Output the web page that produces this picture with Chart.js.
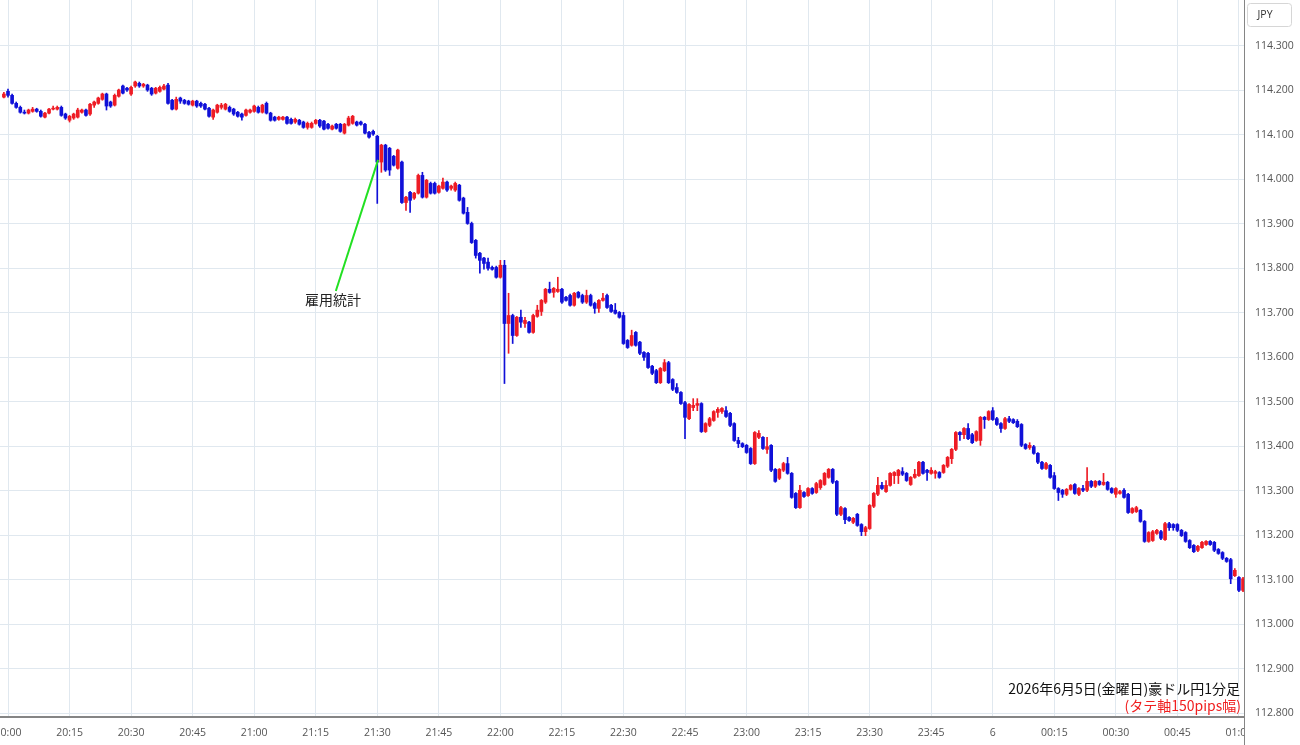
<!DOCTYPE html>
<html lang="ja">
<head>
<meta charset="utf-8">
<title>豪ドル円 1分足</title>
<script src="https://cdn.jsdelivr.net/npm/chart.js@4.4.1/dist/chart.umd.min.js"></script>
<style>
  html, body { margin: 0; padding: 0; background: #fff; }
  #wrap { width: 1300px; height: 745px; }
</style>
</head>
<body>
<div id="wrap"><canvas id="chart" width="1300" height="745"></canvas></div>
<script>
// 1-minute candles, first one is 19:59 (minute -1 from 20:00)
var firstMinute = -1;

var opens = [
  114.185, 114.198, 114.189, 114.171, 114.162, 114.151, 114.149, 114.153, 114.158, 114.153,
  114.140, 114.149, 114.158, 114.158, 114.162, 114.147, 114.133, 114.138, 114.140, 114.151,
  114.156, 114.147, 114.167, 114.171, 114.180, 114.192, 114.174, 114.167, 114.187, 114.210,
  114.205, 114.192, 114.210, 114.216, 114.210, 114.212, 114.205, 114.194, 114.198, 114.203,
  114.212, 114.178, 114.158, 114.183, 114.178, 114.176, 114.167, 114.176, 114.171, 114.169,
  114.160, 114.140, 114.151, 114.162, 114.158, 114.162, 114.158, 114.151, 114.147, 114.144,
  114.151, 114.153, 114.162, 114.151, 114.171, 114.149, 114.140, 114.135, 114.135, 114.140,
  114.135, 114.129, 114.133, 114.129, 114.117, 114.117, 114.126, 114.133, 114.131, 114.124,
  114.113, 114.124, 114.124, 114.104, 114.122, 114.126, 114.129, 114.129, 114.124, 114.106,
  114.108, 114.097, 114.039, 114.077, 114.070, 114.052, 114.025, 114.039, 113.948, 113.971,
  113.958, 113.969, 114.009, 113.960, 113.991, 113.991, 113.971, 113.980, 113.994, 113.980,
  113.976, 113.987, 113.958, 113.926, 113.901, 113.863, 113.834, 113.823, 113.814, 113.802,
  113.802, 113.780, 113.807, 113.676, 113.694, 113.649, 113.690, 113.676, 113.679, 113.656,
  113.692, 113.703, 113.724, 113.753, 113.746, 113.748, 113.753, 113.735, 113.739, 113.717,
  113.746, 113.739, 113.724, 113.739, 113.721, 113.710, 113.728, 113.739, 113.717, 113.706,
  113.701, 113.694, 113.638, 113.627, 113.656, 113.634, 113.611, 113.609, 113.580, 113.570,
  113.543, 113.570, 113.588, 113.550, 113.532, 113.521, 113.498, 113.462, 113.487, 113.492,
  113.496, 113.433, 113.447, 113.458, 113.476, 113.478, 113.480, 113.474, 113.451, 113.413,
  113.406, 113.402, 113.395, 113.361, 113.420, 113.420, 113.393, 113.402, 113.348, 113.328,
  113.346, 113.361, 113.339, 113.294, 113.262, 113.296, 113.289, 113.305, 113.296, 113.307,
  113.314, 113.330, 113.348, 113.321, 113.247, 113.260, 113.240, 113.229, 113.247, 113.224,
  113.208, 113.215, 113.265, 113.292, 113.312, 113.298, 113.312, 113.334, 113.334, 113.343,
  113.339, 113.314, 113.330, 113.334, 113.364, 113.346, 113.339, 113.339, 113.341, 113.341,
  113.355, 113.372, 113.393, 113.431, 113.426, 113.440, 113.426, 113.413, 113.413, 113.465,
  113.460, 113.480, 113.462, 113.451, 113.440, 113.462, 113.460, 113.456, 113.449, 113.404,
  113.397, 113.399, 113.384, 113.364, 113.350, 113.357, 113.334, 113.305, 113.301, 113.292,
  113.303, 113.314, 113.292, 113.305, 113.301, 113.321, 113.310, 113.321, 113.314, 113.319,
  113.305, 113.292, 113.294, 113.301, 113.292, 113.251, 113.253, 113.256, 113.231, 113.186,
  113.188, 113.204, 113.208, 113.190, 113.226, 113.224, 113.224, 113.211, 113.206, 113.188,
  113.177, 113.166, 113.172, 113.179, 113.186, 113.184, 113.168, 113.161, 113.148, 113.145,
  113.109, 113.105, 113.076
];

var highs = [
  114.196, 114.203, 114.192, 114.174, 114.165, 114.156, 114.158, 114.162, 114.160, 114.156,
  114.151, 114.160, 114.165, 114.165, 114.165, 114.149, 114.144, 114.149, 114.160, 114.158,
  114.158, 114.171, 114.176, 114.185, 114.194, 114.194, 114.176, 114.192, 114.203, 114.212,
  114.207, 114.210, 114.221, 114.219, 114.216, 114.214, 114.207, 114.207, 114.210, 114.214,
  114.216, 114.180, 114.185, 114.185, 114.180, 114.178, 114.178, 114.178, 114.174, 114.171,
  114.162, 114.158, 114.169, 114.171, 114.171, 114.165, 114.160, 114.153, 114.149, 114.158,
  114.158, 114.167, 114.165, 114.169, 114.174, 114.151, 114.142, 114.142, 114.142, 114.142,
  114.138, 114.138, 114.135, 114.131, 114.129, 114.129, 114.135, 114.135, 114.133, 114.126,
  114.122, 114.126, 114.126, 114.126, 114.142, 114.144, 114.131, 114.131, 114.126, 114.108,
  114.111, 114.099, 114.079, 114.079, 114.072, 114.054, 114.068, 114.041, 113.962, 113.973,
  113.971, 114.012, 114.016, 114.000, 113.994, 113.994, 113.987, 114.003, 113.996, 113.987,
  113.994, 113.989, 113.960, 113.937, 113.904, 113.865, 113.836, 113.825, 113.823, 113.805,
  113.805, 113.818, 113.818, 113.744, 113.697, 113.692, 113.706, 113.690, 113.681, 113.697,
  113.717, 113.730, 113.755, 113.769, 113.757, 113.780, 113.755, 113.737, 113.742, 113.746,
  113.748, 113.742, 113.751, 113.742, 113.724, 113.730, 113.744, 113.742, 113.719, 113.721,
  113.703, 113.701, 113.640, 113.661, 113.658, 113.636, 113.613, 113.611, 113.582, 113.573,
  113.577, 113.595, 113.591, 113.552, 113.541, 113.523, 113.501, 113.496, 113.507, 113.507,
  113.498, 113.453, 113.465, 113.480, 113.487, 113.487, 113.489, 113.476, 113.453, 113.420,
  113.408, 113.404, 113.397, 113.433, 113.435, 113.422, 113.420, 113.404, 113.350, 113.350,
  113.364, 113.375, 113.341, 113.296, 113.312, 113.298, 113.307, 113.307, 113.319, 113.325,
  113.341, 113.350, 113.350, 113.323, 113.265, 113.262, 113.242, 113.240, 113.249, 113.226,
  113.220, 113.269, 113.296, 113.330, 113.319, 113.323, 113.341, 113.343, 113.348, 113.352,
  113.341, 113.332, 113.348, 113.366, 113.366, 113.348, 113.352, 113.346, 113.343, 113.359,
  113.377, 113.395, 113.433, 113.433, 113.442, 113.451, 113.429, 113.435, 113.467, 113.467,
  113.480, 113.487, 113.465, 113.453, 113.465, 113.467, 113.462, 113.460, 113.451, 113.406,
  113.408, 113.402, 113.386, 113.366, 113.364, 113.359, 113.341, 113.307, 113.303, 113.305,
  113.314, 113.316, 113.307, 113.312, 113.352, 113.323, 113.323, 113.323, 113.339, 113.321,
  113.307, 113.307, 113.301, 113.305, 113.294, 113.262, 113.265, 113.258, 113.233, 113.208,
  113.211, 113.213, 113.211, 113.229, 113.229, 113.226, 113.226, 113.213, 113.208, 113.190,
  113.179, 113.177, 113.186, 113.188, 113.188, 113.186, 113.170, 113.163, 113.150, 113.148,
  113.125, 113.107, 113.105
];

var lows = [
  114.183, 114.185, 114.169, 114.160, 114.149, 114.147, 114.147, 114.151, 114.151, 114.140,
  114.138, 114.147, 114.156, 114.156, 114.142, 114.135, 114.129, 114.135, 114.138, 114.149,
  114.142, 114.144, 114.162, 114.169, 114.178, 114.156, 114.162, 114.165, 114.185, 114.192,
  114.198, 114.189, 114.207, 114.207, 114.207, 114.198, 114.189, 114.192, 114.196, 114.201,
  114.169, 114.156, 114.156, 114.171, 114.169, 114.167, 114.165, 114.162, 114.162, 114.156,
  114.140, 114.135, 114.149, 114.158, 114.156, 114.151, 114.144, 114.140, 114.133, 114.142,
  114.149, 114.151, 114.149, 114.149, 114.147, 114.131, 114.131, 114.133, 114.133, 114.124,
  114.124, 114.126, 114.122, 114.115, 114.113, 114.115, 114.124, 114.117, 114.111, 114.113,
  114.111, 114.113, 114.106, 114.102, 114.120, 114.124, 114.120, 114.122, 114.102, 114.093,
  114.099, 113.946, 114.016, 114.018, 114.009, 114.030, 114.023, 113.946, 113.930, 113.926,
  113.955, 113.967, 113.958, 113.958, 113.967, 113.967, 113.969, 113.978, 113.973, 113.976,
  113.973, 113.951, 113.922, 113.899, 113.856, 113.823, 113.789, 113.798, 113.796, 113.796,
  113.778, 113.778, 113.541, 113.609, 113.631, 113.647, 113.667, 113.667, 113.654, 113.654,
  113.690, 113.694, 113.721, 113.744, 113.735, 113.746, 113.721, 113.726, 113.715, 113.715,
  113.733, 113.721, 113.721, 113.715, 113.699, 113.701, 113.726, 113.710, 113.701, 113.697,
  113.688, 113.629, 113.620, 113.625, 113.625, 113.606, 113.593, 113.575, 113.561, 113.541,
  113.541, 113.568, 113.541, 113.525, 113.519, 113.494, 113.417, 113.460, 113.480, 113.480,
  113.431, 113.431, 113.444, 113.456, 113.465, 113.474, 113.465, 113.444, 113.411, 113.397,
  113.397, 113.384, 113.359, 113.359, 113.417, 113.393, 113.384, 113.343, 113.319, 113.325,
  113.343, 113.337, 113.283, 113.260, 113.260, 113.285, 113.287, 113.292, 113.294, 113.303,
  113.312, 113.328, 113.316, 113.244, 113.244, 113.226, 113.231, 113.226, 113.220, 113.199,
  113.199, 113.213, 113.262, 113.289, 113.303, 113.296, 113.310, 113.316, 113.316, 113.334,
  113.321, 113.312, 113.328, 113.332, 113.337, 113.323, 113.337, 113.328, 113.328, 113.339,
  113.352, 113.361, 113.390, 113.413, 113.417, 113.415, 113.406, 113.411, 113.402, 113.440,
  113.458, 113.458, 113.447, 113.431, 113.438, 113.453, 113.451, 113.442, 113.399, 113.393,
  113.393, 113.382, 113.361, 113.348, 113.348, 113.328, 113.303, 113.278, 113.285, 113.289,
  113.301, 113.292, 113.289, 113.298, 113.298, 113.307, 113.307, 113.312, 113.312, 113.301,
  113.294, 113.285, 113.292, 113.283, 113.249, 113.249, 113.251, 113.229, 113.184, 113.184,
  113.186, 113.202, 113.190, 113.188, 113.211, 113.211, 113.208, 113.197, 113.184, 113.170,
  113.161, 113.163, 113.170, 113.177, 113.177, 113.163, 113.157, 113.145, 113.139, 113.091,
  113.107, 113.073, 113.073
];

var closes = [
  114.192, 114.189, 114.171, 114.162, 114.151, 114.149, 114.156, 114.158, 114.153, 114.142,
  114.149, 114.158, 114.160, 114.162, 114.144, 114.138, 114.142, 114.147, 114.156, 114.156,
  114.144, 114.169, 114.174, 114.183, 114.192, 114.165, 114.165, 114.189, 114.201, 114.194,
  114.201, 114.207, 114.219, 114.210, 114.214, 114.201, 114.192, 114.205, 114.207, 114.210,
  114.171, 114.158, 114.180, 114.176, 114.171, 114.169, 114.176, 114.165, 114.165, 114.158,
  114.142, 114.156, 114.167, 114.167, 114.169, 114.153, 114.147, 114.142, 114.140, 114.156,
  114.156, 114.165, 114.151, 114.167, 114.149, 114.133, 114.133, 114.140, 114.140, 114.126,
  114.126, 114.135, 114.124, 114.117, 114.126, 114.126, 114.133, 114.120, 114.113, 114.115,
  114.120, 114.115, 114.108, 114.124, 114.138, 114.142, 114.122, 114.124, 114.104, 114.095,
  114.102, 114.039, 114.077, 114.021, 114.021, 114.032, 114.066, 113.948, 113.960, 113.953,
  113.969, 114.009, 113.960, 113.998, 113.969, 113.969, 113.985, 113.994, 113.976, 113.985,
  113.991, 113.953, 113.924, 113.901, 113.858, 113.829, 113.818, 113.811, 113.800, 113.798,
  113.780, 113.807, 113.676, 113.694, 113.649, 113.690, 113.679, 113.683, 113.656, 113.694,
  113.706, 113.728, 113.753, 113.746, 113.755, 113.753, 113.724, 113.728, 113.717, 113.744,
  113.735, 113.724, 113.739, 113.717, 113.710, 113.728, 113.733, 113.712, 113.703, 113.699,
  113.690, 113.631, 113.622, 113.649, 113.627, 113.609, 113.600, 113.577, 113.564, 113.543,
  113.575, 113.588, 113.543, 113.528, 113.521, 113.496, 113.465, 113.494, 113.492, 113.496,
  113.433, 113.451, 113.462, 113.478, 113.483, 113.485, 113.467, 113.447, 113.413, 113.406,
  113.399, 113.386, 113.361, 113.431, 113.429, 113.395, 113.399, 113.346, 113.321, 113.348,
  113.361, 113.339, 113.285, 113.262, 113.301, 113.287, 113.305, 113.294, 113.316, 113.323,
  113.339, 113.348, 113.319, 113.247, 113.262, 113.235, 113.233, 113.238, 113.222, 113.208,
  113.217, 113.267, 113.294, 113.312, 113.305, 113.312, 113.339, 113.341, 113.346, 113.337,
  113.323, 113.330, 113.337, 113.364, 113.339, 113.341, 113.346, 113.343, 113.330, 113.357,
  113.375, 113.393, 113.431, 113.426, 113.440, 113.417, 113.408, 113.433, 113.465, 113.460,
  113.478, 113.460, 113.449, 113.440, 113.462, 113.456, 113.453, 113.444, 113.402, 113.395,
  113.402, 113.384, 113.364, 113.350, 113.361, 113.330, 113.305, 113.296, 113.292, 113.303,
  113.312, 113.294, 113.305, 113.301, 113.321, 113.310, 113.321, 113.314, 113.319, 113.303,
  113.296, 113.305, 113.298, 113.285, 113.251, 113.260, 113.262, 113.231, 113.186, 113.206,
  113.208, 113.211, 113.193, 113.226, 113.217, 113.217, 113.211, 113.199, 113.186, 113.172,
  113.163, 113.175, 113.184, 113.186, 113.179, 113.166, 113.159, 113.148, 113.141, 113.102,
  113.121, 113.076, 113.102
];

// x axis labels, one every 15 minutes from 20:00
var timeLabels = ['20:00', '20:15', '20:30', '20:45', '21:00', '21:15', '21:30', '21:45',
  '22:00', '22:15', '22:30', '22:45', '23:00', '23:15', '23:30', '23:45',
  '6', '00:15', '00:30', '00:45', '01:00'];

// annotation: label position and the line to the 21:30 candle (minute, price)
var noteText = '雇用統計';
var notePos = [79.2, 113.729];
var noteLine = [[79.9, 113.749], [90.2, 114.044]];

var captionLines = ['2026年6月5日(金曜日)豪ドル円1分足', '(タテ軸150pips幅)'];
var currency = 'JPY';

var upColor = '#ee1c25';
var downColor = '#1010d8';
var gridColor = '#e0e8ef';
var axisColor = '#858585';
var tickFont = { family: "'Open Sans', 'Noto Sans', sans-serif", size: 10.5 };
var jpFont = "'Noto Sans CJK JP', 'Noto Sans', sans-serif";

function candleColor(ctx) {
  var i = ctx.dataIndex;
  return closes[i] >= opens[i] ? upColor : downColor;
}

var wickData = [];
var bodyData = [];
for (var i = 0; i < opens.length; i++) {
  wickData.push({ x: firstMinute + i, y: [lows[i], highs[i]] });
  bodyData.push({ x: firstMinute + i, y: [opens[i], closes[i]] });
}

var overlay = {
  id: 'overlay',
  afterDraw: function(chart) {
    var ctx = chart.ctx;
    var a = chart.chartArea;
    var xs = chart.scales.x;
    var ys = chart.scales.y;
    ctx.save();

    // time labels stop at the price axis
    ctx.fillStyle = '#fff';
    ctx.fillRect(a.right + 1, a.bottom + 3, chart.width - a.right, chart.height - a.bottom);
    ctx.strokeStyle = axisColor;
    ctx.lineWidth = 1;
    ctx.beginPath();
    ctx.moveTo(a.right + 0.5, 0);
    ctx.lineTo(a.right + 0.5, chart.height);
    ctx.stroke();

    // currency box
    ctx.strokeStyle = '#d6d6d6';
    ctx.fillStyle = '#fff';
    ctx.beginPath();
    ctx.roundRect(a.right + 3.5, 3.5, 44, 23, 3);
    ctx.fill();
    ctx.stroke();
    ctx.fillStyle = '#333';
    ctx.font = '10.5px ' + tickFont.family;
    ctx.textAlign = 'center';
    ctx.textBaseline = 'middle';
    ctx.fillText(currency, a.right + 21, 15);

    // annotation
    ctx.strokeStyle = '#22e022';
    ctx.lineWidth = 2;
    ctx.beginPath();
    ctx.moveTo(xs.getPixelForValue(noteLine[0][0]), ys.getPixelForValue(noteLine[0][1]));
    ctx.lineTo(xs.getPixelForValue(noteLine[1][0]), ys.getPixelForValue(noteLine[1][1]));
    ctx.stroke();
    ctx.fillStyle = '#222';
    ctx.font = '14px ' + jpFont;
    ctx.fillText(noteText, xs.getPixelForValue(notePos[0]), ys.getPixelForValue(notePos[1]));

    // caption bottom right
    ctx.textAlign = 'right';
    ctx.font = '14px ' + jpFont;
    ctx.fillStyle = '#111';
    ctx.fillText(captionLines[0], a.right - 4, a.bottom - 28);
    ctx.fillStyle = '#f01e1e';
    ctx.fillText(captionLines[1], a.right - 3, a.bottom - 11);

    ctx.restore();
  }
};

var chart = new Chart(document.getElementById('chart'), {
  type: 'bar',
  data: {
    datasets: [
      {
        label: 'wick',
        data: wickData,
        backgroundColor: candleColor,
        barThickness: 1,
        grouped: false,
        order: 2
      },
      {
        label: 'body',
        data: bodyData,
        backgroundColor: candleColor,
        barThickness: 3,
        minBarLength: 1,
        grouped: false,
        order: 1
      }
    ]
  },
  options: {
    responsive: false,
    animation: false,
    events: [],
    layout: { padding: 0 },
    plugins: {
      legend: { display: false },
      tooltip: { enabled: false }
    },
    scales: {
      x: {
        type: 'linear',
        min: -1.95,
        max: 301.24,
        offset: false,
        grid: { color: gridColor, offset: false, drawTicks: false },
        border: { color: axisColor, width: 2 },
        ticks: {
          stepSize: 15,
          includeBounds: false,
          autoSkip: false,
          maxRotation: 0,
          padding: 10,
          color: '#555',
          font: tickFont,
          callback: function(v) {
            var k = v / 15;
            return Number.isInteger(k) && timeLabels[k] ? timeLabels[k] : null;
          }
        },
        afterFit: function(s) {
          s.height = 28;
          s.paddingLeft = 0;
          s.paddingRight = 0;
        }
      },
      y: {
        position: 'right',
        min: 112.7912,
        max: 114.4034,
        beginAtZero: false,
        grid: { color: gridColor, drawTicks: false },
        border: { color: axisColor, width: 1 },
        ticks: {
          stepSize: 0.1,
          includeBounds: false,
          padding: 11,
          color: '#555',
          font: tickFont,
          callback: function(v) {
            return v > 114.35 ? null : v.toFixed(3);
          }
        },
        afterFit: function(s) {
          s.width = 56;
          s.paddingTop = 0;
          s.paddingBottom = 0;
        }
      }
    }
  },
  plugins: [overlay]
});
</script>
</body>
</html>
